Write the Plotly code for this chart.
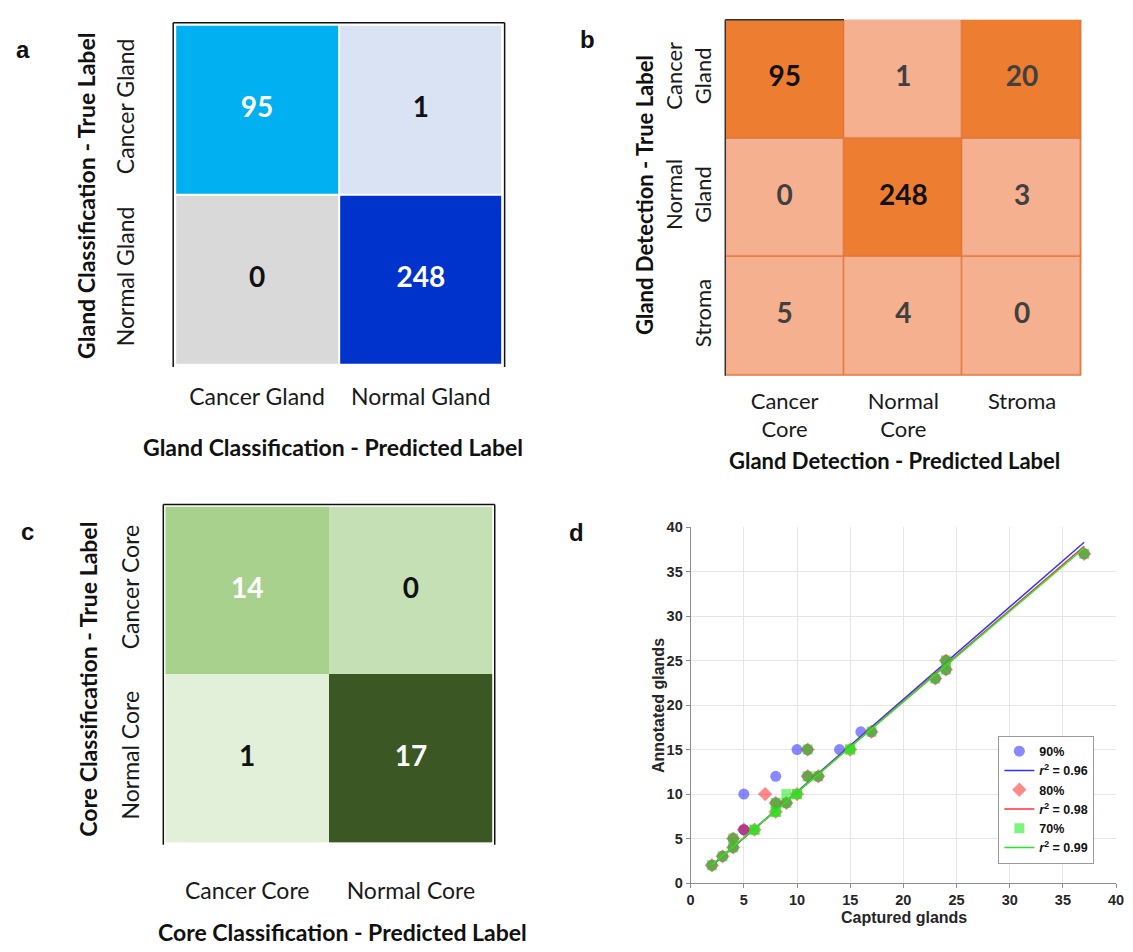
import plotly.graph_objects as go

W, H = 1133, 952

# ---------------- data ----------------
# panel a: gland classification
a_pred = ["Cancer Gland", "Normal Gland"]
a_true = ["Cancer Gland", "Normal Gland"]
a_counts = [[95, 1], [0, 248]]
a_colors = [["#00B0F0", "#DAE3F3"], ["#D9D9D9", "#0033CC"]]
a_text_colors = [["white", "#111111"], ["#111111", "white"]]

# panel b: gland detection
b_pred = ["Cancer<br>Core", "Normal<br>Core", "Stroma"]
b_true = ["Cancer<br>Gland", "Normal<br>Gland", "Stroma"]
b_counts = [[95, 1, 20], [0, 248, 3], [5, 4, 0]]
b_colors = [["#ED7D31", "#F5B090", "#ED7D31"],
            ["#F5B090", "#ED7D31", "#F5B090"],
            ["#F5B090", "#F5B090", "#F5B090"]]
b_text_colors = [["#111111", "#404040", "#404040"],
                 ["#404040", "#111111", "#404040"],
                 ["#404040", "#404040", "#404040"]]

# panel c: core classification
c_pred = ["Cancer Core", "Normal Core"]
c_true = ["Cancer Core", "Normal Core"]
c_counts = [[14, 0], [1, 17]]
c_colors = [["#A9D18E", "#C5E0B4"], ["#E2F0D9", "#3B5723"]]
c_text_colors = [["white", "#111111"], ["#111111", "white"]]

# panel d: captured vs annotated glands
x90 = [2, 3, 4, 4, 5, 5, 5, 8, 8, 9, 10, 11, 11, 12, 14, 16, 17, 23, 24, 24, 37]
y90 = [2, 3, 4, 5, 6, 6, 10, 9, 12, 9, 15, 12, 15, 12, 15, 17, 17, 23, 24, 25, 37]
x80 = [2, 3, 4, 4, 5, 6, 7, 8, 8, 9, 10, 11, 11, 12, 15, 17, 23, 24, 24, 37]
y80 = [2, 3, 4, 5, 6, 6, 10, 8, 9, 9, 10, 12, 15, 12, 15, 17, 23, 24, 25, 37]
x70 = [2, 3, 4, 4, 6, 6, 8, 8, 8, 9, 9, 10, 10, 11, 11, 12, 15, 15, 17, 23, 24, 24, 37]
y70 = [2, 3, 4, 5, 6, 6, 8, 8, 9, 9, 10, 10, 10, 12, 15, 12, 15, 15, 17, 23, 24, 25, 37]
fit_x = [2, 37]
fit90_y = [1.95, 38.3]
fit80_y = [2.0, 37.85]
fit70_y = [2.05, 37.65]
r2_labels = ["0.96", "0.98", "0.99"]
series_names = ["90%", "80%", "70%"]
x_ticks_d = [0, 5, 10, 15, 20, 25, 30, 35, 40]

# ---------------- helpers ----------------
def xdom(a, b):
    return [a / W, b / W]

def ydom(top, bottom):
    return [1 - bottom / H, 1 - top / H]

def px(x):
    return x / W

def py(y):
    return 1 - y / H

def colorscale(counts, colors):
    vmax = max(max(r) for r in counts)
    pairs = {}
    for r_c, r_col in zip(counts, colors):
        for v, col in zip(r_c, r_col):
            pairs[v] = col
    keys = sorted(pairs)
    return [[k / vmax, pairs[k]] for k in keys], vmax

LABEL_FONT = "Lato"
fig = go.Figure()

def add_matrix(pred, true, counts, colors, tcolors, xa, ya, gap, nsize):
    cs, vmax = colorscale(counts, colors)
    fig.add_trace(go.Heatmap(
        x=pred, y=true, z=counts, colorscale=cs, zmin=0, zmax=vmax,
        showscale=False, xgap=gap, ygap=gap, hoverinfo="skip",
        xaxis=xa, yaxis=ya, showlegend=False))
    xs, ys, ts, cs_ = [], [], [], []
    for i, t in enumerate(true):
        for j, p in enumerate(pred):
            xs.append(p); ys.append(t); ts.append(str(counts[i][j]))
            cs_.append(tcolors[i][j])
    fig.add_trace(go.Scatter(
        x=xs, y=ys, text=ts, mode="text",
        textfont=dict(family=LABEL_FONT, size=nsize, color=cs_, weight="bold"),
        hoverinfo="skip", xaxis=xa, yaxis=ya, showlegend=False))

add_matrix(a_pred, a_true, a_counts, a_colors, a_text_colors, "x", "y", 2, 28)
add_matrix(b_pred, b_true, b_counts, b_colors, b_text_colors, "x2", "y2", 1.5, 28)
add_matrix(c_pred, c_true, c_counts, c_colors, c_text_colors, "x3", "y3", 0, 28)

# ---- panel d ----
mk_alpha = 0.55
fig.add_trace(go.Scatter(x=x90, y=y90, mode="markers", name=series_names[0],
                         marker=dict(symbol="circle", size=11, color="rgb(40,40,255)",
                                     opacity=mk_alpha, line=dict(width=0)),
                         xaxis="x4", yaxis="y4"))
fig.add_trace(go.Scatter(x=fit_x, y=fit90_y, mode="lines",
                         name="<i>r</i><sup>2</sup> = " + r2_labels[0],
                         line=dict(color="rgb(50,50,255)", width=1.5),
                         xaxis="x4", yaxis="y4"))
fig.add_trace(go.Scatter(x=x80, y=y80, mode="markers", name=series_names[1],
                         marker=dict(symbol="diamond", size=11, color="rgb(255,40,40)",
                                     opacity=mk_alpha, line=dict(width=0)),
                         xaxis="x4", yaxis="y4"))
fig.add_trace(go.Scatter(x=fit_x, y=fit80_y, mode="lines",
                         name="<i>r</i><sup>2</sup> = " + r2_labels[1],
                         line=dict(color="rgb(255,50,50)", width=1.5),
                         xaxis="x4", yaxis="y4"))
fig.add_trace(go.Scatter(x=x70, y=y70, mode="markers", name=series_names[2],
                         marker=dict(symbol="square", size=10, color="rgb(20,235,20)",
                                     opacity=mk_alpha, line=dict(width=0)),
                         xaxis="x4", yaxis="y4"))
fig.add_trace(go.Scatter(x=fit_x, y=fit70_y, mode="lines",
                         name="<i>r</i><sup>2</sup> = " + r2_labels[2],
                         line=dict(color="rgb(40,230,40)", width=1.5),
                         xaxis="x4", yaxis="y4"))

def cat_axes(xdomain, ydomain, xstand, ystand, yanchor_name, xanchor_name, fsize):
    tf = dict(family=LABEL_FONT, size=fsize, color="#1a1a1a")
    xa = dict(domain=xdomain, anchor=yanchor_name, showgrid=False, zeroline=False,
              showline=False, ticks="", tickfont=tf,
              ticklabelstandoff=xstand, fixedrange=True)
    ya = dict(domain=ydomain, anchor=xanchor_name, showgrid=False, zeroline=False,
              showline=False, ticks="", tickfont=tf, tickangle=-90,
              autorange="reversed", ticklabelstandoff=ystand, fixedrange=True)
    return xa, ya

xa1, ya1 = cat_axes(xdom(173, 504), ydom(17, 363), 16, 36, "y", "x", 23)
xa2, ya2 = cat_axes(xdom(729, 1089), ydom(12, 374), 10, 9, "y2", "x2", 22)
xa3, ya3 = cat_axes(xdom(163, 494), ydom(507, 849), 32, 21, "y3", "x3", 23)

tickfont_d = dict(family="Liberation Sans", size=14.5, color="#262626", weight="bold")
xa4 = dict(domain=xdom(694, 1124), anchor="y4", range=[0, 40], tickvals=x_ticks_d,
           showgrid=True, gridcolor="#E6E6E6", gridwidth=1, zeroline=False,
           showline=True, linecolor="#8c8c8c", linewidth=1, ticks="outside",
           ticklen=4, tickcolor="#8c8c8c", tickfont=tickfont_d, fixedrange=True)
ya4 = dict(domain=ydom(528, 890), anchor="x4", range=[0, 40], tickvals=x_ticks_d,
           showgrid=True, gridcolor="#E6E6E6", gridwidth=1, zeroline=False,
           showline=True, linecolor="#8c8c8c", linewidth=1, ticks="outside",
           ticklen=4, tickcolor="#8c8c8c", tickfont=tickfont_d, fixedrange=True)

# ---- border lines around matrices (axis-domain coordinates) ----
shapes = []
def box_lines(xr, yr, sides, pad=0.006):
    for s in sides:
        if s == "left":
            x0 = x1 = -pad; y0, y1 = -pad, 1 + pad
        elif s == "right":
            x0 = x1 = 1 + pad; y0, y1 = -pad, 1 + pad
        elif s == "top":
            y0 = y1 = 1 + pad; x0, x1 = -pad, 1 + pad
        shapes.append(dict(type="line", xref=xr + " domain", yref=yr + " domain",
                           x0=x0, x1=x1, y0=y0, y1=y1,
                           line=dict(color="#111111", width=1.5)))

box_lines("x", "y", ["left", "top", "right"])
box_lines("x3", "y3", ["left", "top", "right"])
# panel b: cell border colour underneath heatmap gaps, dark left edge
shapes.append(dict(type="rect", xref="x2 domain", yref="y2 domain", x0=0, x1=1,
                   y0=0, y1=1, fillcolor="#E2763A", line=dict(width=0), layer="below"))
shapes.append(dict(type="line", xref="x2 domain", yref="y2 domain", x0=0, x1=0,
                   y0=0, y1=1, line=dict(color="#333333", width=1.5)))
shapes.append(dict(type="line", xref="x2 domain", yref="y2 domain", x0=0, x1=1 / 3,
                   y0=1, y1=1, line=dict(color="#333333", width=1.5)))

# ---- annotations (titles, panel letters) ----
ann = []
def text(t, x, y, size, angle=0, family=LABEL_FONT, bold=True, color="#111111"):
    ann.append(dict(text=t, x=px(x), y=py(y), xref="paper", yref="paper",
                    xanchor="center", yanchor="middle", showarrow=False,
                    textangle=angle,
                    font=dict(family=family, size=size, color=color,
                              weight="bold" if bold else "normal")))

text("Gland Classification - Predicted Label", 333, 447, 23)
text("Gland Classification - True Label", 83, 191, 23, angle=-90)
text("Gland Detection - Predicted Label", 900, 460, 22)
text("Gland Detection - True Label", 648, 190, 22, angle=-90)
text("Core Classification - Predicted Label", 342, 940, 23)
text("Core Classification - True Label", 84, 683, 23, angle=-90)
text("Captured glands", 910, 925, 16, family="Liberation Sans", color="#262626")
text("Annotated glands", 661, 709, 16, angle=-90, family="Liberation Sans", color="#262626")
for letter, x, y in [("a", 19, 42), ("b", 590, 32), ("c", 24, 532), ("d", 579, 533)]:
    text(letter, x, y, 24, family="Liberation Sans", color="#111111")

fig.update_layout(
    width=W, height=H, margin=dict(l=0, r=0, t=0, b=0),
    paper_bgcolor="white", plot_bgcolor="white",
    xaxis=xa1, yaxis=ya1, xaxis2=xa2, yaxis2=ya2, xaxis3=xa3, yaxis3=ya3,
    xaxis4=xa4, yaxis4=ya4,
    shapes=shapes, annotations=ann,
    legend=dict(x=px(1005), y=py(740), xanchor="left", yanchor="top",
                bgcolor="white", bordercolor="#9a9a9a", borderwidth=1,
                font=dict(family="Liberation Sans", size=12.5, color="#111111", weight="bold"),
                tracegroupgap=0, itemwidth=30),
)

fig.write_html("out.html",
               config={"displayModeBar": False},
               post_script="document.body.style.margin='0px';"
                           "document.body.style.overflow='hidden';")
